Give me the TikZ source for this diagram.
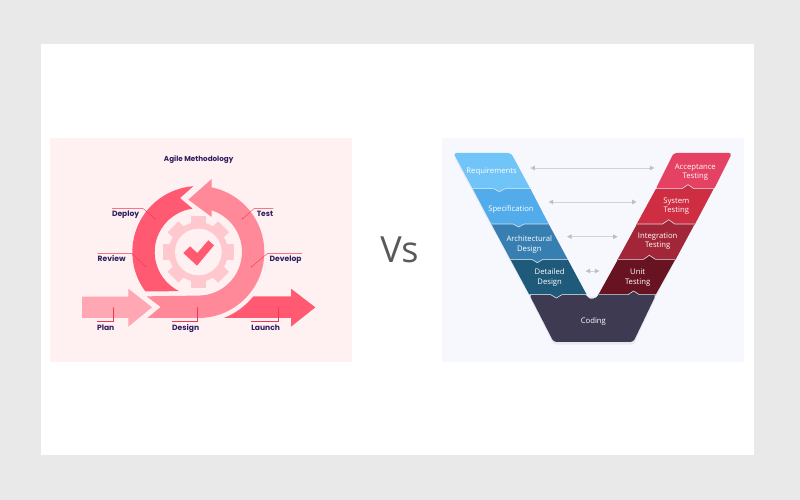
\documentclass[tikz,border=0pt]{standalone}
\usepackage{fontspec}
\setmainfont{Open Sans}
\newfontfamily\popfont{Poppins}
\usetikzlibrary{arrows.meta}
\definecolor{pageC}{HTML}{E9E9E9}
\definecolor{panelL}{HTML}{FFF1F1}
\definecolor{panelR}{HTML}{F6F8FE}
\definecolor{redC}{HTML}{FF5A72}
\definecolor{midC}{HTML}{FF8899}
\definecolor{paleC}{HTML}{FFA7B2}
\definecolor{gearC}{HTML}{FFC7CE}
\definecolor{inkC}{HTML}{2F1E5F}
\definecolor{leadC}{HTML}{F5324F}
\definecolor{seamC}{HTML}{D6E4EE}
\tikzset{
  agilelabel/.style={font=\popfont\bfseries\fontsize{7.6}{9}\selectfont,text=inkC,inner sep=0pt,text height=5.5pt,text depth=0pt},
  titlelabel/.style={font=\popfont\bfseries\fontsize{7.2}{9}\selectfont,text=inkC,inner sep=0pt,text height=5.2pt,text depth=0pt},
  leader/.style={draw=leadC,line width=0.35pt},
  leaddot/.style={fill=leadC,circle,inner sep=0pt,minimum size=1.6pt},
  vlabel/.style={font=\fontsize{7.7}{9.2}\selectfont,text=white,inner sep=0pt,text height=5.6pt,text depth=0pt,yshift=-0.5pt},
  vlabeltwo/.style={font=\fontsize{7.7}{9.2}\selectfont,text=white,align=center,inner sep=0pt,yshift=-1.2pt},
  link/.style={draw=linkC,line width=0.7pt,{Triangle[length=4.5pt,width=4.5pt,fill=linkT,color=linkT]}-{Triangle[length=4.5pt,width=4.5pt,fill=linkT,color=linkT]}},
  seam/.style={draw=seamC,line width=0.6pt},
  zoomL/.style={shift={(50,138)},x=0.33333pt,y=-0.33333pt},
  zoomR/.style={shift={(442,138)},x=0.33333pt,y=-0.33333pt}
}
\definecolor{linkC}{HTML}{D2D3D9}
\definecolor{linkT}{HTML}{BFC0C6}
\begin{document}
\begin{tikzpicture}[x=1pt,y=-1pt]
\useasboundingbox (0,0) rectangle (800,500);
\fill[pageC] (0,0) rectangle (800,500);
\fill[white] (41,44) rectangle (754,455);
\fill[panelL] (50,138) rectangle (352,362);
\fill[panelR] (442,138) rectangle (744,362);
\node[font=\fontsize{36}{40}\selectfont,text=black!65,inner sep=0pt] (vs) at (399.5,249.5) {Vs};

% ---- Agile panel
\begin{scope}[zoomL]
\coordinate (C) at (445,342);
\node[titlelabel] (title) at (446,62) {Agile Methodology};
% plan
\fill[paleC] (96,476) -- (235,476) -- (235,452) -- (306,508) -- (235,566) -- (235,540) -- (96,540) -- cycle;
% launch
\fill[redC] (521,540) arc[start angle=69,end angle=38.9,radius=212] -- (723,475) -- (723,452) -- (796,508) -- (723,566) -- (723,540) -- cycle;
% review/deploy
\fill[redC] (C) ++(143.4:198) arc[start angle=143.4,end angle=265.7,radius=198] -- (390,180) -- (428,212) arc[start angle=262.5,end angle=116,radius=131] -- cycle;
% design/develop/test
\fill[midC] (290,475) -- (332,507) -- (292,540) -- (445,540) arc[start angle=90,end angle=-78.3,radius=198] -- (485,123) -- (415,185) -- (485,237) -- (485,217) arc[start angle=-72.2,end angle=90,radius=131] -- cycle;
% gear
\fill[gearC] (C) circle[radius=89];
\foreach \a in {0,45,...,315}{
  \fill[gearC,shift={(C)},rotate=\a] (80,-23) rectangle (107,23);
}
\fill[panelL] (C) circle[radius=70];
% check
\fill[redC] (400,345) -- (420,325) -- (442,345) -- (475,307) -- (492,322) -- (441,383) -- cycle;
% leaders
\node[agilelabel] (deploy) at (227,228) {Deploy};
\node[agilelabel] (test) at (645,228) {Test};
\node[agilelabel] (review) at (185,362) {Review};
\node[agilelabel] (develop) at (707,362) {Develop};
\node[agilelabel] (plan) at (167,568) {Plan};
\node[agilelabel] (design) at (407,568) {Design};
\node[agilelabel] (launch) at (647,568) {Launch};
\node[leaddot] (dDeploy) at (314,242) {};
\node[leaddot] (dTest) at (578,242) {};
\node[leaddot] (dReview) at (288,386) {};
\node[leaddot] (dDevelop) at (605,386) {};
\node[leaddot] (dPlan) at (190,510) {};
\node[leaddot] (dDesign) at (443,510) {};
\node[leaddot] (dLaunch) at (686,510) {};
\draw[leader] (dDeploy) -- (280,212) -- (deploy.west |- 0,212);
\draw[leader] (dTest) -- (612,212) -- (test.east |- 0,212);
\draw[leader] (dReview) -- (245,346) -- (review.west |- 0,346);
\draw[leader] (dDevelop) -- (653,346) -- (develop.east |- 0,346);
\draw[leader] (dPlan) -- (190,550) -- (plan.west |- 0,550);
\draw[leader] (dDesign) -- (443,550) -- (design.west |- 0,550);
\draw[leader] (dLaunch) -- (686,550) -- (launch.west |- 0,550);
\end{scope}

% ---- V panel
\definecolor{cReq}{HTML}{70C4F8}
\definecolor{cSpec}{HTML}{52ACEB}
\definecolor{cArch}{HTML}{387FB1}
\definecolor{cDet}{HTML}{1F5A7B}
\definecolor{cCode}{HTML}{3E3A52}
\definecolor{cAcc}{HTML}{E54163}
\definecolor{cSys}{HTML}{CE2D42}
\definecolor{cInt}{HTML}{A32638}
\definecolor{cUnit}{HTML}{681322}
\definecolor{shadowC}{HTML}{E6E9F0}
\begin{scope}[zoomR]
% soft shadow under the V
\fill[shadowC,rounded corners=2.5pt] (262,476) -- (642,476) -- (575,620) -- (335,620) -- cycle;
\fill[shadowC] (34,52) -- (262,476) -- (300,476) -- cycle;
\fill[shadowC] (870,52) -- (642,476) -- (620,476) -- cycle;
% right arm
\fill[cAcc,rounded corners=3pt] (695,45) -- (870,45) -- (815,155) -- (640,155) -- cycle;
\fill[cSys] (642,152) -- (720,152) -- (738,140) -- (756,152) -- (815,152) -- (758,260) -- (583,260) -- cycle;
\fill[cInt] (585,258) -- (662,258) -- (680,245) -- (698,258) -- (758,258) -- (700,366) -- (526,366) -- cycle;
\fill[cUnit] (528,364) -- (605,364) -- (622,352) -- (640,364) -- (700,364) -- (640,472) -- (468,472) -- cycle;
% coding
\fill[cCode,rounded corners=3pt] (262,470) -- (434,470) [sharp corners] .. controls (442,485) and (462,485) .. (470,470) [rounded corners=3pt] -- (558,470) -- (575,459) -- (592,470) -- (642,470) -- (574,612) -- (335,612) -- cycle;
% left arm
\fill[cDet] (205,364) -- (377,364) -- (434,470) -- (360,470) -- (343,480) -- (326,470) -- (262,470) -- cycle;
\fill[cArch] (148,258) -- (320,258) -- (377,364) -- (303,364) -- (286,374) -- (269,364) -- (205,364) -- cycle;
\fill[cSpec] (92,152) -- (265,152) -- (320,258) -- (247,258) -- (230,267) -- (213,258) -- (148,258) -- cycle;
\fill[cReq,rounded corners=3pt] (34,45) -- (207,45) [sharp corners] -- (265,152) -- (190,152) -- (172,161) -- (155,152) -- (92,152) [rounded corners=3pt] -- cycle;
% seams
\draw[seam] (92,152) -- (155,152) -- (172,161) -- (190,152) -- (265,152);
\draw[seam] (148,258) -- (213,258) -- (230,267) -- (247,258) -- (320,258);
\draw[seam] (205,364) -- (269,364) -- (286,374) -- (303,364) -- (377,364);
\draw[seam] (262,470) -- (326,470) -- (343,480) -- (360,470) -- (434,470);
\draw[seam] (642,152) -- (720,152) -- (738,140) -- (756,152) -- (815,152);
\draw[seam] (585,258) -- (662,258) -- (680,245) -- (698,258) -- (758,258);
\draw[seam] (528,364) -- (605,364) -- (622,352) -- (640,364) -- (700,364);
\draw[seam] (470,470) -- (558,470) -- (575,459) -- (592,470) -- (642,470);
% labels
\node[vlabel] (req) at (149,98) {Requirements};
\node[vlabel] (spec) at (207,211) {Specification};
\node[vlabeltwo] (arch) at (262,316) {Architectural\\Design};
\node[vlabeltwo] (det) at (323,415) {Detailed\\Design};
\node[vlabel] (code) at (454,546) {Coding};
\node[vlabeltwo] (acc) at (760,98) {Acceptance\\Testing};
\node[vlabeltwo] (sys) at (703,200) {System\\Testing};
\node[vlabeltwo] (int) at (647,305) {Integration\\Testing};
\node[vlabeltwo] (unit) at (587,415) {Unit\\Testing};
% links
\coordinate (a1) at (265,90); \coordinate (b1) at (637,90);
\coordinate (a2) at (320,192); \coordinate (b2) at (584,192);
\coordinate (a3) at (375,296); \coordinate (b3) at (527,296);
\coordinate (a4) at (431,399); \coordinate (b4) at (472,399);
\draw[link] (a1) -- (b1);
\draw[link] (a2) -- (b2);
\draw[link] (a3) -- (b3);
\draw[link] (a4) -- (b4);
\end{scope}
\end{tikzpicture}
\end{document}
